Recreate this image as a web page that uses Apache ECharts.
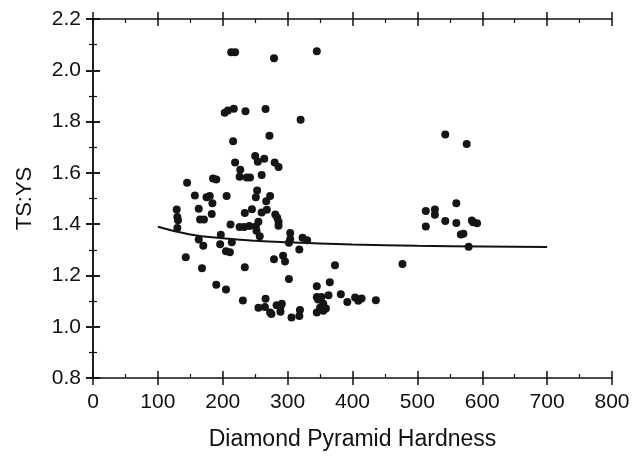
<!DOCTYPE html>
<html><head><meta charset="utf-8">
<script src="https://cdn.jsdelivr.net/npm/echarts@6/dist/echarts.min.js"></script>
<style>html,body{margin:0;padding:0;background:#fff}#c{width:644px;height:456px}</style>
</head><body><div id="c"></div>
<script>
const xTitle = 'Diamond Pyramid Hardness';
const yTitle = 'TS:YS';
const hardness = [213,219,279,345,203,208,217,235,266,320,272,216,250,254,264,219,280,286,227,226,237,242,260,145,185,190,157,175,180,206,253,251,273,267,184,163,129,245,234,260,268,183,130,131,165,171,281,284,286,286,212,255,226,233,241,251,252,130,197,257,304,323,304,302,330,163,170,196,214,205,211,143,168,234,318,279,293,296,373,477,190,205,302,345,365,231,266,255,265,273,275,283,289,291,289,306,318,319,345,347,352,363,355,350,345,355,359,382,392,404,409,414,436,513,527,527,543,513,543,576,560,560,584,586,592,567,571,579];
const ratio = [2.07,2.07,2.047,2.074,1.834,1.843,1.85,1.84,1.849,1.807,1.745,1.723,1.666,1.643,1.655,1.64,1.64,1.623,1.612,1.585,1.582,1.582,1.592,1.561,1.578,1.574,1.512,1.505,1.51,1.51,1.531,1.505,1.51,1.489,1.481,1.46,1.457,1.458,1.443,1.445,1.456,1.44,1.428,1.415,1.418,1.418,1.438,1.425,1.409,1.394,1.399,1.409,1.389,1.389,1.393,1.391,1.374,1.385,1.359,1.353,1.365,1.347,1.341,1.327,1.337,1.34,1.316,1.322,1.329,1.294,1.29,1.271,1.228,1.232,1.301,1.263,1.277,1.254,1.24,1.245,1.164,1.145,1.186,1.158,1.173,1.102,1.109,1.074,1.077,1.055,1.05,1.084,1.078,1.09,1.058,1.036,1.042,1.065,1.116,1.106,1.116,1.123,1.09,1.074,1.055,1.062,1.071,1.127,1.096,1.114,1.101,1.11,1.103,1.451,1.457,1.437,1.412,1.391,1.75,1.713,1.481,1.404,1.414,1.407,1.403,1.36,1.363,1.312];
const fitX = [100,150,200,250,300,400,500,600,700];
const fitY = [1.390,1.360,1.345,1.335,1.329,1.321,1.316,1.313,1.311];

const font = 'Liberation Sans, Arial, Helvetica, sans-serif';
const axLine = {show:true, lineStyle:{color:'#111', width:1.5}};
function xa(pos, labels, inside, minor, showLine){
  return {type:'value', min:0, max:800, interval:100, position:pos, gridIndex:0,
    axisLine: showLine ? axLine : {show:false},
    axisTick:{show:true, inside:inside, length:7, lineStyle:{color:'#111', width:1.5}},
    minorTick:{show:minor, splitNumber:2, length:4, lineStyle:{color:'#111', width:1.2}},
    splitLine:{show:false},
    axisLabel:{show:labels, color:'#111', fontSize:21, fontFamily:font, margin:14},
    name: labels ? xTitle : '', nameLocation:'middle', nameGap:50,
    nameTextStyle:{color:'#111', fontSize:23, fontFamily:font}};
}
function ya(pos, labels, inside, minor, showLine){
  return {type:'value', min:0.8, max:2.2, interval:0.2, position:pos, gridIndex:0,
    axisLine: showLine ? axLine : {show:false},
    axisTick:{show:true, inside:inside, length:7, lineStyle:{color:'#111', width:1.5}},
    minorTick:{show:minor, splitNumber:2, length:4, lineStyle:{color:'#111', width:1.2}},
    splitLine:{show:false},
    axisLabel:{show:labels, color:'#111', fontSize:21, fontFamily:font, margin:12,
      formatter: v => v.toFixed(1)},
    name: labels ? yTitle : '', nameLocation:'middle', nameGap:57,
    nameTextStyle:{color:'#111', fontSize:22, fontFamily:font}};
}
const pts = hardness.map((h,i)=>[h, ratio[i]]);
const fit = fitX.map((h,i)=>[h, fitY[i]]);
const chart = echarts.init(document.getElementById('c'), null, {renderer:'canvas'});
chart.setOption({
  animation:false,
  backgroundColor:'#fff',
  grid:{left:93, right:32, top:19, bottom:74},
  xAxis:[xa('bottom',true,false,false,true), xa('bottom',false,true,true,false),
         xa('top',false,false,false,true), xa('top',false,true,true,false)],
  yAxis:[ya('left',true,false,false,true), ya('left',false,true,true,false),
         ya('right',false,false,false,true), ya('right',false,true,true,false)],
  series:[
    {type:'line', data:fit, smooth:true, showSymbol:false, symbol:'none',
     lineStyle:{color:'#111', width:2}, z:2},
    {type:'scatter', data:pts, symbol:'circle', symbolSize:8,
     itemStyle:{color:'#151515', opacity:1}, z:3}
  ]
});
</script></body></html>
